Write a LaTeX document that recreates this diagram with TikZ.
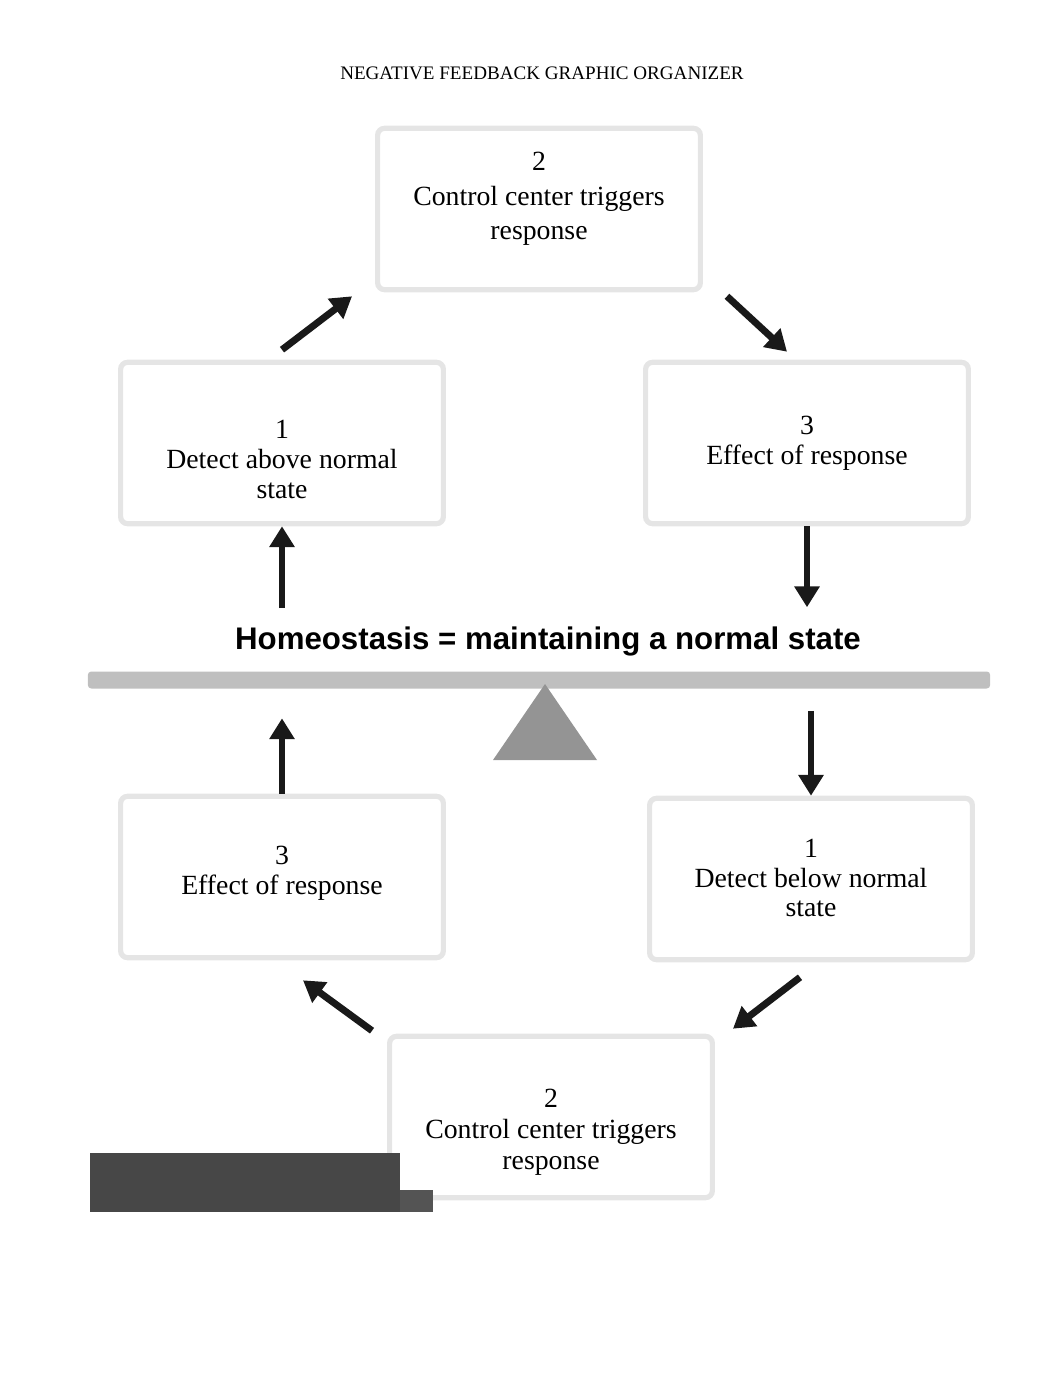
\documentclass[tikz,border=0pt]{standalone}
\usepackage{fontspec}
\setmainfont{Liberation Serif}
\newfontfamily\labelfont{Liberation Sans}
\usetikzlibrary{arrows.meta}

\begin{document}
\begin{tikzpicture}[x=0.5763pt,y=-0.5763pt]
\tikzset{BoxStyle/.style =
		{shape = rectangle,
		draw = black!10,
		line width = 3pt,
		rounded corners = 4pt,
		minimum width = 186pt,
		minimum height = 93pt},
	TextStyle/.style =
		{align = center,
		inner sep = 0pt,
		font = \fontsize{16}{#1}\selectfont},
	TextStyle/.default = 20,
	ArrowStyle/.style =
		{draw = black!90,
		line width = 4pt,
		-{Triangle[length=12pt,width=14pt]}},
	BeamStyle/.style =
		{fill = black!25,
		minimum width = 520pt,
		minimum height = 9.8pt,
		inner sep = 0pt,
		rounded corners = 2pt}}
	\useasboundingbox (0,0) rectangle (1062,1377);

	\node[font=\fontsize{11}{13}\selectfont] (Title) at (542,73) {NEGATIVE FEEDBACK GRAPHIC ORGANIZER};

	% above normal
	\node[BoxStyle] (ControlHigh) at (539,209) {};
	\node[BoxStyle] (DetectHigh) at (282,443) {};
	\node[BoxStyle] (EffectHigh) at (807,443) {};
	\node[TextStyle] (ControlHighText) at ([shift={(0,-10)}]ControlHigh) {2\\Control center triggers\\response};
	\node[TextStyle=17.3] (DetectHighText) at ([shift={(0,16)}]DetectHigh) {1\\Detect above normal\\state};
	\node[TextStyle=17.3] (EffectHighText) at ([shift={(0,0)}]EffectHigh) {3\\Effect of response};
	% below normal
	\node[BoxStyle] (DetectLow) at (811,879) {};
	\node[BoxStyle] (ControlLow) at (551,1117) {};
	\node[BoxStyle] (EffectLow) at (282,877) {};
	\node[TextStyle=17] (DetectLowText) at ([shift={(0,-1)}]DetectLow) {1\\Detect below normal\\state};
	\node[TextStyle=18] (ControlLowText) at ([shift={(0,15)}]ControlLow) {2\\Control center triggers\\response};
	\node[TextStyle=17.3] (EffectLowText) at ([shift={(0,-4)}]EffectLow) {3\\Effect of response};

	% the balance
	\node[BeamStyle] (Beam) at (539,680) {};
	\node[font=\labelfont\bfseries\fontsize{18}{22}\selectfont] (Homeo) at (548,641) {Homeostasis = maintaining a normal state};
	\fill[black!42] (545,684) -- (597,760) -- (493,760) -- cycle;

	\draw[ArrowStyle] ([shift={(0,-10)}]DetectHigh.north) -- ([shift={(-23,4)}]ControlHigh.south west);
	\draw[ArrowStyle] ([shift={(24,4)}]ControlHigh.south east) -- ([shift={(-20,-8)}]EffectHigh.north);
	\draw[ArrowStyle, shorten >=7.5pt] (EffectHigh.south) -- (EffectHigh.south |- Homeo.north);
	\draw[ArrowStyle, shorten <=7pt] (DetectHigh.south |- Homeo.north) -- (DetectHigh.south);

	\draw[ArrowStyle, shorten <=12.7pt] (DetectLow.north |- Beam.south) -- (DetectLow.north);
	\draw[ArrowStyle] ([shift={(-11,15)}]DetectLow.south) -- ([shift={(18,-5)}]ControlLow.north east);
	\draw[ArrowStyle] ([shift={(-15,-3)}]ControlLow.north west) -- ([shift={(21,20)}]EffectLow.south);
	\draw[ArrowStyle, shorten >=17pt] (EffectLow.north) -- (EffectLow.north |- Beam.south);
	%\draw[ArrowStyle] (EffectLow) -- (DetectHigh);

	\fill[black!72] (90,1153) -- (400,1153) -- (400,1212) -- (90,1212) -- cycle;
	\fill[black!67] (400,1190) -- (433,1190) -- (433,1212) -- (400,1212) -- cycle;
\end{tikzpicture}
\end{document}
